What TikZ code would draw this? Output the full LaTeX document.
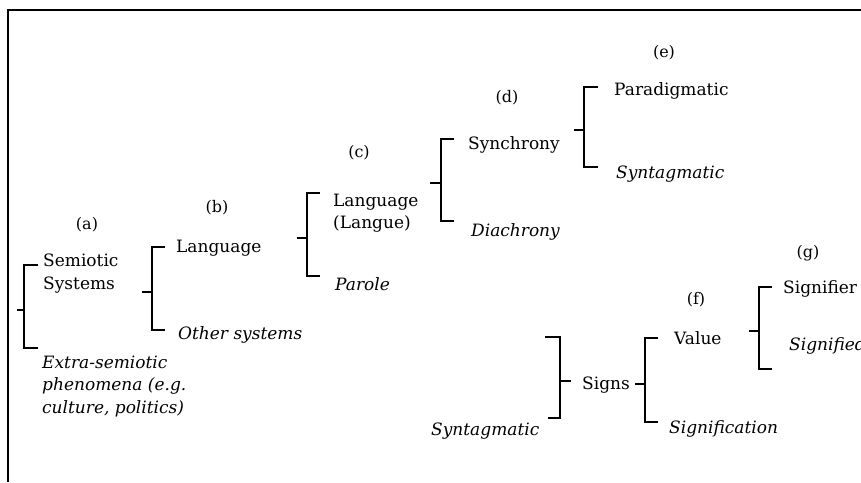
\documentclass[tikz,border=0pt]{standalone}
\usepackage{fontspec}
\setmainfont{DejaVu Serif}
\begin{document}
\begin{tikzpicture}[x=1pt,y=-1pt,
  frame/.style={line width=1.6pt},
  brk/.style={line width=1.8pt,line cap=butt,line join=miter},
  term/.style={inner sep=0pt,anchor=base west,font=\fontsize{17}{22}\selectfont},
  multi/.style={inner sep=0pt,anchor=west,align=left,font=\fontsize{17}{22.5}\selectfont},
  tag/.style={inner sep=0pt,font=\fontsize{16}{19}\selectfont}]
\useasboundingbox (0,0) rectangle (861,482);
% open frame: top and left rules
\coordinate (fl) at (8,482);
\coordinate (fc) at (8,10);
\coordinate (fr) at (861,10);
\draw[frame] (fl) -- (fc) -- (fr);

% bracket: spine x, top y, bottom y, middle y, arm end x, stem end x
\newcommand{\brk}[7]{%
  \coordinate (#1t) at (#6,#3);
  \coordinate (#1b) at (#6,#4);
  \coordinate (#1m) at (#7,#5);
  \draw[brk] (#1t) -- (#2,#3) -- (#2,#4) -- (#1b);
  \draw[brk] (#1m) -- (#2,#5);}

% level labels
\node[tag] (la) at (87,225) {(a)};
\node[tag] (lb) at (217,208) {(b)};
\node[tag] (lc) at (359,153) {(c)};
\node[tag] (ld) at (507,98) {(d)};
\node[tag] (le) at (664,53) {(e)};
\node[tag] (lf) at (696,300) {(f)};
\node[tag] (lg) at (808,253) {(g)};

% (a) semiotic systems vs. the rest
\brk{A}{24}{265}{348}{310}{38}{17}
\node[multi] (semio) at (43,273.5) {Semiotic\\Systems};
\node[multi] (extra) at (42,386.5) {\itshape Extra-semiotic\\\itshape phenomena (e.g.\\\itshape culture, politics)};

% (b) language vs. other systems
\brk{B}{152}{247}{330}{292}{165}{142}
\node[term] (lang) at (176,252) {Language};
\node[term] (other) at (178,339) {\itshape Other systems};

% (c) langue / parole
\brk{C}{307}{193}{276}{238}{320}{297}
\node[multi] (langue) at (333,213) {Language\\(Langue)};
\node[term] (parole) at (335,290) {\itshape Parole};

% (d) synchrony / diachrony
\brk{D}{441}{139}{221}{183}{454}{430}
\node[term] (sync) at (468,149) {Synchrony};
\node[term] (diac) at (471,236) {\itshape Diachrony};

% (e) paradigmatic / syntagmatic
\brk{E}{584}{87}{167}{130}{598}{574}
\node[term] (para) at (614,95) {Paradigmatic};
\node[term] (synt) at (616,178) {\itshape Syntagmatic};

% signs, closed on the left by a reversed bracket
\coordinate (St) at (545,337);
\coordinate (Sb) at (548,418);
\coordinate (Sm) at (571,381);
\draw[brk] (St) -- (560,337) -- (560,418) -- (Sb);
\draw[brk] (560,381) -- (Sm);
\node[term] (signs) at (582,389) {Signs};
\node[term] (synt2) at (431,435) {\itshape Syntagmatic};

% (f) value / signification
\brk{F}{645}{338}{422}{384}{658}{635}
\node[term] (value) at (674,344) {Value};
\node[term] (signif) at (669,433) {\itshape Signification};

% (g) signifier / signified, the last running off the right edge
\brk{G}{759}{287}{369}{331}{772}{749}
\node[term] (sgnr) at (783,293) {Signifier};
\node[term] (sgnd) at (789,350) {\itshape Signified};
\end{tikzpicture}
\end{document}
